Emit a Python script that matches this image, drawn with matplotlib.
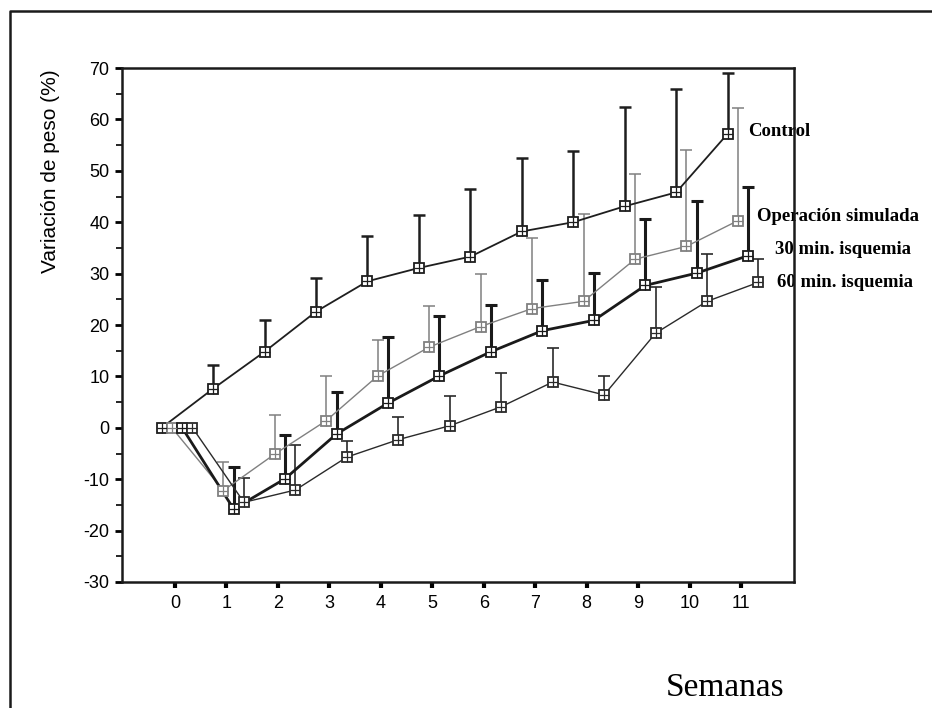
import numpy as np
import matplotlib
matplotlib.use("Agg")
import matplotlib.pyplot as plt
from matplotlib.lines import Line2D
from matplotlib.ticker import MultipleLocator

plt.rcParams['axes.unicode_minus'] = False

# semanas
weeks = np.arange(0, 12)

# media de cada grupo y extremo superior de la barra de error
control = [0, 7.6, 14.8, 22.6, 28.5, 31.1, 33.3, 38.2, 40.0, 43.1, 45.8, 57.2]
control_up = [0, 12.3, 20.9, 29.2, 37.4, 41.4, 46.4, 52.5, 53.8, 62.5, 65.9, 69.0]
operacion = [0, -12.2, -5.1, 1.4, 10.1, 15.7, 19.7, 23.2, 24.6, 32.8, 35.3, 40.3]
operacion_up = [0, -6.6, 2.5, 10.0, 17.0, 23.7, 30.0, 37.0, 41.6, 49.4, 54.1, 62.2]
isq30 = [0, -15.8, -9.9, -1.2, 4.8, 10.1, 14.8, 18.9, 20.9, 27.7, 30.1, 33.5]
isq30_up = [0, -7.6, -1.4, 6.9, 17.6, 21.7, 23.9, 28.8, 30.1, 40.6, 44.2, 46.9]
isq60 = [0, -14.5, -12.1, -5.7, -2.3, 0.4, 4.1, 8.9, 6.4, 18.4, 24.6, 28.3]
isq60_up = [0, -9.7, -3.4, -2.5, 2.1, 6.1, 10.6, 15.5, 10.0, 27.3, 33.9, 32.8]

labels = ['Control', 'Operación simulada', '30 min. isquemia', '60 min. isquemia']

fig = plt.figure(figsize=(9.32, 7.08), dpi=100)
ax = fig.add_axes([122 / 932, 1 - 582 / 708, 672 / 932, 514 / 708])

# (valores, extremo, desplazamiento, color, grosor linea, grosor barra)
series = [
    (control, control_up, -0.26, '#1e1e1e', 1.3, 1.8),
    (operacion, operacion_up, -0.06, '#808080', 1.0, 1.1),
    (isq30, isq30_up, 0.14, '#1a1a1a', 2.0, 2.2),
    (isq60, isq60_up, 0.34, '#2a2a2a', 1.0, 1.2),
]

for vals, up, off, col, lw, elw in series:
    x = weeks + off
    y = np.array(vals)
    u = np.array(up)
    m = u > y
    ax.vlines(x[m], y[m], u[m], color=col, lw=elw, zorder=2)
    ax.plot(x[m], u[m], ls='none', marker='_', ms=8, mew=elw, color=col, zorder=2)
    ax.plot(x, y, color=col, lw=lw, zorder=3)
    ax.plot(x, y, ls='none', marker='s', ms=6.5, mfc='white', mec=col, mew=1.3, zorder=4)
    ax.plot(x, y, ls='none', marker='+', ms=6.5, mec=col, mew=0.9, zorder=5)

# etiquetas de las series
label_pos = [(11.13, 57.6), (11.32, 41.1), (11.67, 34.6), (11.70, 28.3)]
for lab, (lx, ly) in zip(labels, label_pos):
    ax.text(lx, ly, lab, family='Liberation Serif', fontweight='bold', fontsize=13.5,
            va='center', ha='left', clip_on=False, zorder=2)

ax.set_xlim(-1.03, 12.03)
ax.set_ylim(-30, 70)
ax.set_xticks(weeks)
ax.yaxis.set_major_locator(MultipleLocator(10))
ax.yaxis.set_minor_locator(MultipleLocator(5))
ax.tick_params(axis='x', length=4, width=3, direction='out', labelsize=13, pad=5)
ax.tick_params(axis='y', which='major', length=5, width=2, direction='out', labelsize=13, pad=4)
ax.tick_params(axis='y', which='minor', length=4, width=1.2, direction='out')
for lab in ax.get_xticklabels() + ax.get_yticklabels():
    lab.set_family('Liberation Sans')
for sp in ax.spines.values():
    sp.set_linewidth(1.8)
    sp.set_color('#1a1a1a')
    sp.set_zorder(6)

ax.set_ylabel('Variación de peso (%)', family='Liberation Sans', fontsize=15)
ax.yaxis.set_label_coords(-0.092, 0.80)

fig.text(725 / 932, 1 - 688 / 708, 'Semanas', family='Liberation Serif',
         fontsize=24, ha='center', va='center')

# marco exterior (izquierda y arriba)
fig.add_artist(Line2D([10 / 932, 10 / 932, 1.0], [0.0, 1 - 11 / 708, 1 - 11 / 708],
                      transform=fig.transFigure, lw=1.8, color='#1a1a1a'))

fig.savefig('out.png', dpi=100)
